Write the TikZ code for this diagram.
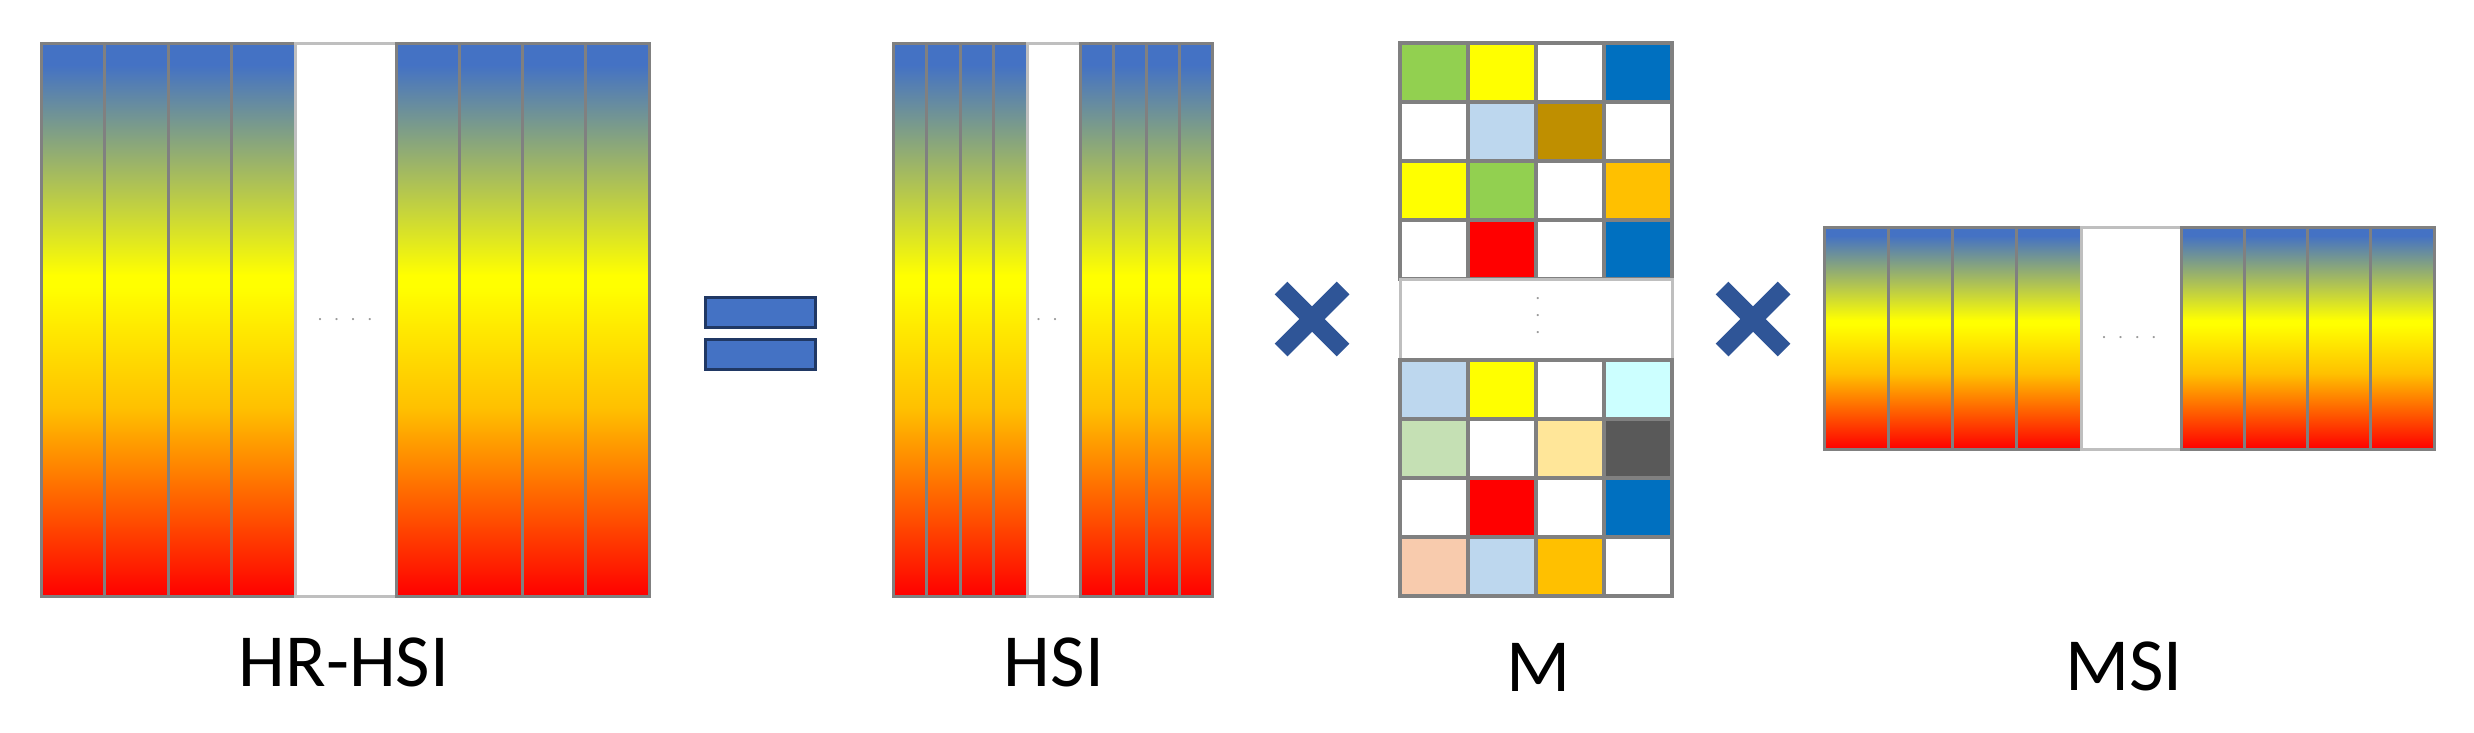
\documentclass[tikz,border=0pt]{standalone}
\usepackage{fontspec}
\setmainfont{Carlito}
\definecolor{sblue}{HTML}{4472C4}
\definecolor{syel}{HTML}{FFFF00}
\definecolor{sgold}{HTML}{FFC000}
\definecolor{sred}{HTML}{FF0000}
\definecolor{stripgray}{HTML}{808080}
\definecolor{lightgr}{HTML}{BFBFBF}
\definecolor{dotgray}{HTML}{9A9A9A}
\definecolor{xblue}{HTML}{2F5597}
\definecolor{eqblue}{HTML}{4472C4}
\definecolor{eqborder}{HTML}{203864}
\definecolor{mgreen}{HTML}{92D050}
\definecolor{mblue}{HTML}{0070C0}
\definecolor{mlblue}{HTML}{BDD7EE}
\definecolor{mgold}{HTML}{BF8F00}
\definecolor{morange}{HTML}{FFC000}
\definecolor{mcyan}{HTML}{CCFFFF}
\definecolor{mlgreen}{HTML}{C5E0B4}
\definecolor{mlorange}{HTML}{FFE699}
\definecolor{mdgray}{HTML}{595959}
\definecolor{mpeach}{HTML}{F8CBAD}
\definecolor{myellow}{HTML}{FFFF00}
\definecolor{mred}{HTML}{FF0000}
\pgfdeclareverticalshading{specshade}{100bp}{color(0bp)=(sred); color(25bp)=(sred); color(42bp)=(sgold); color(53bp)=(syel); color(54bp)=(syel); color(73bp)=(sblue); color(75bp)=(sblue); color(100bp)=(sblue)}
\tikzset{
  strip/.style={shading=specshade, draw=stripgray, line width=3pt},
  gapbox/.style={fill=white, draw=lightgr, line width=3pt},
  cell/.style={draw=stripgray, line width=3.5pt},
  timesx/.style={draw=xblue, line width=18pt},
  eqbar/.style={fill=eqblue, draw=eqborder, line width=3pt},
  lbl/.style={font=\fontsize{75}{90}\selectfont, anchor=base, text=black, inner sep=0pt},
  dotsty/.style={font=\fontsize{18}{17}\selectfont, text=dotgray, inner sep=0pt},
}
\begin{document}
\begin{tikzpicture}[x=1pt,y=-1pt]
\useasboundingbox (0,0) rectangle (2474,732);
\fill[white] (0,0) rectangle (2474,732);

% HR-HSI
\foreach \a in {0,...,3} { \path[strip] ({41+\a*63.5},43) rectangle ({41+(\a+1)*63.5},596); }
\path[gapbox] (295,43) rectangle (396,596);
\foreach \a in {0,...,3} { \path[strip] ({396+\a*63.25},43) rectangle ({396+(\a+1)*63.25},596); }
\node[dotsty] (hrdots) at (345,320) {.\hspace{12pt}.\hspace{12pt}.\hspace{12pt}.};
\node[lbl] (lhr) at (344,686) {HR-HSI};

% equals
\path[eqbar] (705,297) rectangle (815,327);
\path[eqbar] (705,339) rectangle (815,369);

% HSI
\foreach \a in {0,...,3} { \path[strip] ({893+\a*33.5},43) rectangle ({893+(\a+1)*33.5},596); }
\path[gapbox] (1027,43) rectangle (1080,596);
\foreach \a in {0,...,3} { \path[strip] ({1080+\a*33},43) rectangle ({1080+(\a+1)*33},596); }
\node[dotsty] (hsidots) at (1047,320) {.\hspace{12pt}.};
\node[lbl] (lhsi) at (1054,686) {HSI};

% times 1
\draw[timesx] (1281,288) -- (1343,350);
\draw[timesx] (1281,350) -- (1343,288);

% M
\foreach \cols [count=\r from 0] in {{mgreen,myellow,white,mblue},{white,mlblue,mgold,white},{myellow,mgreen,white,morange},{white,mred,white,mblue}} {
  \foreach \c [count=\k from 0] in \cols {
    \path[cell, fill=\c] ({1400+68*\k},{43+59*\r}) rectangle ({1400+68*(\k+1)},{43+59*(\r+1)});
  }
}
\path[gapbox] (1400,279) rectangle (1672,360);
\foreach \cols [count=\r from 0] in {{mlblue,myellow,white,mcyan},{mlgreen,white,mlorange,mdgray},{white,mred,white,mblue},{mpeach,mlblue,morange,white}} {
  \foreach \c [count=\k from 0] in \cols {
    \path[cell, fill=\c] ({1400+68*\k},{360+59*\r}) rectangle ({1400+68*(\k+1)},{360+59*(\r+1)});
  }
}
\node[dotsty, align=center] (mdots) at (1538,316) {.\\.\\.};
\node[lbl] (lm) at (1539,691) {M};

% times 2
\draw[timesx] (1722,288) -- (1784,350);
\draw[timesx] (1722,350) -- (1784,288);

% MSI
\foreach \a in {0,...,3} { \path[strip] ({1824+\a*64.25},227) rectangle ({1824+(\a+1)*64.25},449); }
\path[gapbox] (2081,227) rectangle (2181,449);
\foreach \a in {0,...,3} { \path[strip] ({2181+\a*63.25},227) rectangle ({2181+(\a+1)*63.25},449); }
\node[dotsty] (msidots) at (2129,338) {.\hspace{12pt}.\hspace{12pt}.\hspace{12pt}.};
\node[lbl] (lmsi) at (2124,690) {MSI};
\end{tikzpicture}
\end{document}
